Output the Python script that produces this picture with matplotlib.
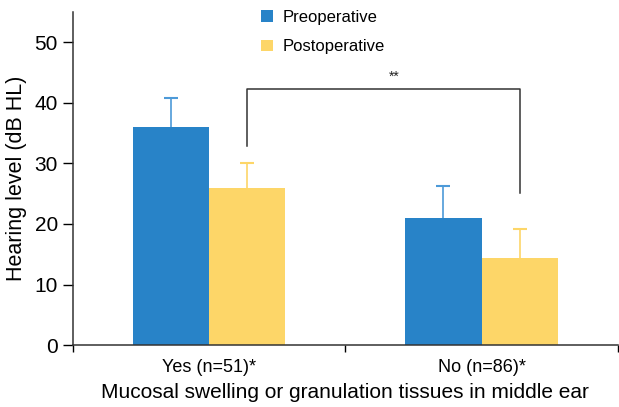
import numpy as np
import matplotlib.pyplot as plt

plt.rcParams["font.family"] = ["Liberation Sans", "DejaVu Sans"]

groups = ["Yes (n=51)*", "No (n=86)*"]
preop = [36.0, 21.0]
preop_sd = [4.8, 5.2]
postop = [26.0, 14.3]
postop_sd = [4.0, 4.8]
yticks = [0, 10, 20, 30, 40, 50]

BLUE = "#2883c8"
YELLOW = "#fdd668"
BAR_W = 0.28

fig = plt.figure(figsize=(6.19, 4.07), dpi=100)
ax = fig.add_axes([0.118, 0.152, 0.88, 0.819])

x = np.arange(len(groups))
ax.bar(x - BAR_W / 2, preop, BAR_W, color=BLUE, label="Preoperative")
ax.bar(x + BAR_W / 2, postop, BAR_W, color=YELLOW, label="Postoperative")


def upper_err(xs, vals, sds, color):
    # only the upper half of the SD bar, capped at the top
    tops = np.array(vals) + np.array(sds)
    ax.vlines(xs, vals, tops, color=color, lw=1.2)
    ax.plot(xs, tops, ls="none", marker="_", ms=10, mew=1.5, color=color)


upper_err(x - BAR_W / 2, preop, preop_sd, "#4d9ad8")
upper_err(x + BAR_W / 2, postop, postop_sd, YELLOW)

# significance bracket between the two postoperative bars
bx0, bx1 = x[0] + BAR_W / 2, x[1] + BAR_W / 2
top = 42.3
ax.plot([bx0, bx0, bx1, bx1], [32.8, top, top, 25.1], color="#333333", lw=1.1)
ax.text((bx0 + bx1) / 2 + 0.04, top + 0.9, "**", ha="center", va="bottom",
        fontsize=10, color="#222222")

ax.set_xlim(-0.5, 1.5)
ax.set_ylim(0, 55)
ax.set_yticks(yticks)
ax.tick_params(axis="y", labelsize=15, length=7, width=1, pad=4)
ax.set_xticks(x)
ax.set_xticklabels(groups, fontsize=13)
ax.set_xticks([-0.5, 0.5, 1.5], minor=True)
ax.tick_params(axis="x", which="major", length=0, pad=10)
ax.tick_params(axis="x", which="minor", length=5, width=1)

for side in ("top", "right"):
    ax.spines[side].set_visible(False)
for side in ("left", "bottom"):
    ax.spines[side].set_linewidth(1.1)
    ax.spines[side].set_color("#333333")

ax.set_ylabel("Hearing level (dB HL)", fontsize=15.5, labelpad=5)
ax.set_xlabel("Mucosal swelling or granulation tissues in middle ear",
              fontsize=15, labelpad=5)

ax.legend(loc="upper left", bbox_to_anchor=(0.318, 1.05), frameon=False,
          fontsize=12, handlelength=0.7, handleheight=0.7,
          handletextpad=0.6, labelspacing=0.85)

fig.savefig("out.png", dpi=100)
